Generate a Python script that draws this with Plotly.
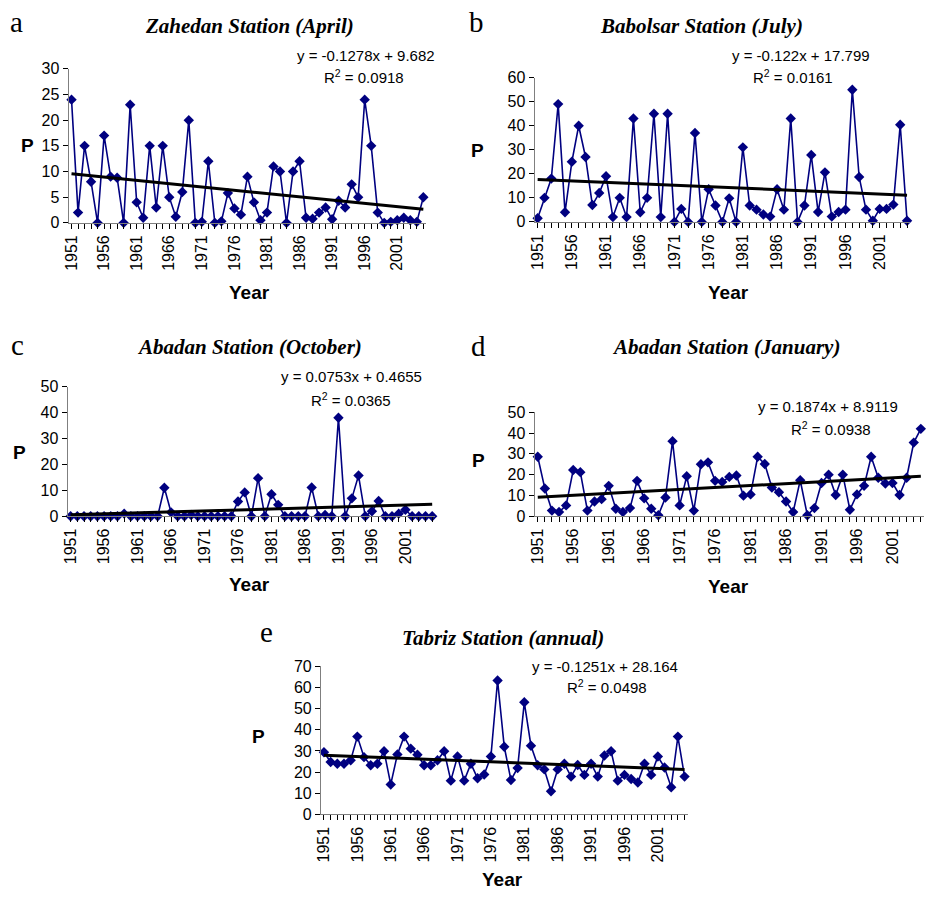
import plotly.graph_objects as go

years = list(range(1951, 2006))

zahedan_april = [24, 2, 15, 8, 0, 17, 9, 8.8, 0, 23,
                 4, 1, 15, 3, 15, 5, 1.2, 6, 20, 0,
                 0.2, 12, 0, 0.3, 5.8, 2.8, 1.6, 9, 4, 0.5,
                 2, 11, 10, 0, 10, 12, 1, 0.8, 2, 3,
                 0.7, 4.3, 3, 7.5, 5, 24, 15, 2, 0, 0.2,
                 0.5, 1, 0.5, 0.2, 5]
babolsar_july = [1.5, 10, 18, 49, 4, 25, 40, 27, 7, 12,
                 19, 2, 10, 2, 43, 4, 10, 45, 2, 45,
                 0, 5.4, 0, 37, 0, 13.6, 6.8, 0, 9.8, 0,
                 31, 6.8, 5.1, 3.1, 2.2, 13.6, 5.1, 43, 0, 6.8,
                 27.8, 4.1, 20.6, 2.2, 4.1, 5.1, 55, 18.7, 5.1, 0.5,
                 5.4, 5.4, 7.2, 40.4, 0.5]
abadan_october = [0, 0, 0, 0, 0, 0, 0, 0, 1, 0,
                  0, 0, 0, 0, 11, 1.5, 0, 0, 0.5, 0,
                  0, 0, 0, 0, 0, 5.7, 9.2, 0, 14.7, 0,
                  8.5, 4.4, 0, 0, 0, 0, 11.1, 0, 0.5, 0,
                  38, 0, 6.9, 15.7, 0, 1.9, 5.9, 0, 0, 1,
                  2.5, 0, 0, 0, 0]
abadan_january = [28.6, 13.3, 2.7, 2.0, 5.2, 22.2, 21.2, 2.7, 7.1, 8.2,
                   14.6, 3.6, 2.0, 3.9, 17.0, 8.6, 3.6, 0.5, 9.0, 36.1,
                   5.2, 19.2, 2.7, 25.0, 25.9, 17.0, 16.5, 18.9, 19.6, 9.9,
                   10.5, 28.6, 25.1, 13.8, 11.5, 7.1, 2.0, 17.3, 0.5, 3.9,
                   16.0, 20.0, 10.2, 20.0, 3.1, 10.5, 14.6, 28.6, 18.5, 15.7,
                   16.0, 10.2, 18.5, 35.4, 42.0]
tabriz_annual = [29.4, 24.8, 24, 24, 25.6, 36.8, 27.1, 23.3, 24, 29.9,
                 14.2, 28.4, 36.8, 31.1, 28.2, 23.3, 23.3, 25.6, 29.9, 16.0,
                 27.4, 16.0, 24, 17.1, 18.9, 27.4, 63.3, 32.0, 16.3, 22.0,
                 53.0, 32.5, 23.3, 21.3, 11.0, 21.3, 24, 17.9, 23.4, 18.7,
                 24, 17.9, 27.9, 29.9, 16.0, 18.7, 16.8, 15.1, 24, 18.7,
                 27.4, 22.2, 12.9, 36.8, 17.9]

series = [zahedan_april, babolsar_july, abadan_october, abadan_january, tabriz_annual]
titles = ["Zahedan Station (April)", "Babolsar Station (July)", "Abadan Station (October)",
          "Abadan Station (January)", "Tabriz Station (annual)"]
letters = ["a", "b", "c", "d", "e"]
slopes = [-0.1278, -0.122, 0.0753, 0.1874, -0.1251]
intercepts = [9.682, 17.799, 0.4655, 8.9119, 28.164]
eq_texts = ["y = -0.1278x + 9.682", "y = -0.122x + 17.799", "y = 0.0753x + 0.4655",
            "y = 0.1874x + 8.9119", "y = -0.1251x + 28.164"]
r2_texts = ["0.0918", "0.0161", "0.0365", "0.0938", "0.0498"]
y_max = [30, 60, 50, 50, 70]
y_dtick = [5, 10, 10, 10, 10]
tick_years = list(range(1951, 2002, 5))
tick_labels = [str(y) for y in tick_years]

W, H = 928, 901
# plot boxes in pixels: left, right, top, bottom
boxes = [(63, 423, 62, 219), (532, 910, 71, 218), (62, 432, 386, 518),
         (532, 924, 412, 518), (317, 686, 671, 822)]
# text positions in pixels
letter_pos = [(11, 14), (474, 14), (12, 343), (476, 345), (262, 636)]
title_pos = [(245, 18), (700, 18), (245, 346), (725, 346), (500, 642)]
eq_pos = [(362, 48), (800, 48), (348, 376), (827, 406), (603, 671)]
r2_pos = [(360, 70), (792, 70), (347, 399), (830, 429), (605, 692)]
p_pos = [(22, 140), (475, 145), (14, 453), (476, 461), (254, 743)]
year_pos = [(245, 290), (727, 290), (245, 588), (727, 590), (500, 888)]

NAVY = "#000080"
AX = "#7f7f7f"
fig = go.Figure()
annotations = []

def px(x, y):
    return x / W, 1 - y / H

def ann(pos, text, font):
    x, y = px(*pos)
    annotations.append(dict(x=x, y=y, xref="paper", yref="paper", text=text,
                            showarrow=False, font=font, xanchor="center",
                            yanchor="middle"))

for i in range(5):
    sfx = "" if i == 0 else str(i + 1)
    xa, ya = "x" + sfx, "y" + sfx
    vals = series[i]
    fig.add_trace(go.Scatter(x=years, y=vals, xaxis=xa, yaxis=ya, mode="lines+markers",
                             line=dict(color=NAVY, width=1.6),
                             marker=dict(symbol="diamond", size=8, color=NAVY),
                             cliponaxis=False, showlegend=False))
    t = [1, len(years)]
    fig.add_trace(go.Scatter(x=[years[0], years[-1]],
                             y=[slopes[i] * k + intercepts[i] for k in t],
                             xaxis=xa, yaxis=ya, mode="lines",
                             line=dict(color="black", width=3),
                             cliponaxis=False, showlegend=False))
    l, r, tp, b = boxes[i]
    fig.layout["xaxis" + sfx] = dict(
        domain=[l / W, r / W], anchor=ya, range=[1950.55, 2005.45],
        tickmode="array", tickvals=tick_years, ticktext=tick_labels, tickangle=-90,
        ticks="outside", ticklen=5, tickcolor="black", showline=True, linecolor=AX,
        linewidth=1, showgrid=False, zeroline=False,
        tickfont=dict(family="Liberation Sans, Arial", size=16, color="black"),
        minor=dict(tickmode="linear", tick0=1951, dtick=1, ticks="outside", ticklen=5,
                   tickcolor="black", showgrid=False))
    fig.layout["yaxis" + sfx] = dict(
        domain=[1 - b / H, 1 - tp / H], anchor=xa, range=[0, y_max[i]], dtick=y_dtick[i],
        tick0=0, ticks="outside", ticklen=5, tickcolor="black", showline=True,
        linecolor=AX, linewidth=1, showgrid=False, zeroline=False,
        tickfont=dict(family="Liberation Sans, Arial", size=16, color="black"))

    ann(letter_pos[i], letters[i], dict(family="Liberation Serif, Times New Roman", size=29, color="black"))
    ann(title_pos[i], "<b><i>" + titles[i] + "</i></b>",
        dict(family="Liberation Serif, Times New Roman", size=21, color="black"))
    ann(eq_pos[i], eq_texts[i], dict(family="Liberation Sans, Arial", size=15, color="black"))
    ann(r2_pos[i], "R<sup>2</sup> = " + r2_texts[i], dict(family="Liberation Sans, Arial", size=15, color="black"))
    ann(p_pos[i], "<b>P</b>", dict(family="Liberation Sans, Arial", size=19, color="black"))
    ann(year_pos[i], "<b>Year</b>", dict(family="Liberation Sans, Arial", size=19, color="black"))

fig.update_layout(width=W, height=H, margin=dict(l=0, r=0, t=0, b=0),
                  paper_bgcolor="white", plot_bgcolor="white",
                  annotations=annotations, showlegend=False)

fig.write_html("out.html", config={"displayModeBar": False},
               post_script="document.body.style.margin='0';")
